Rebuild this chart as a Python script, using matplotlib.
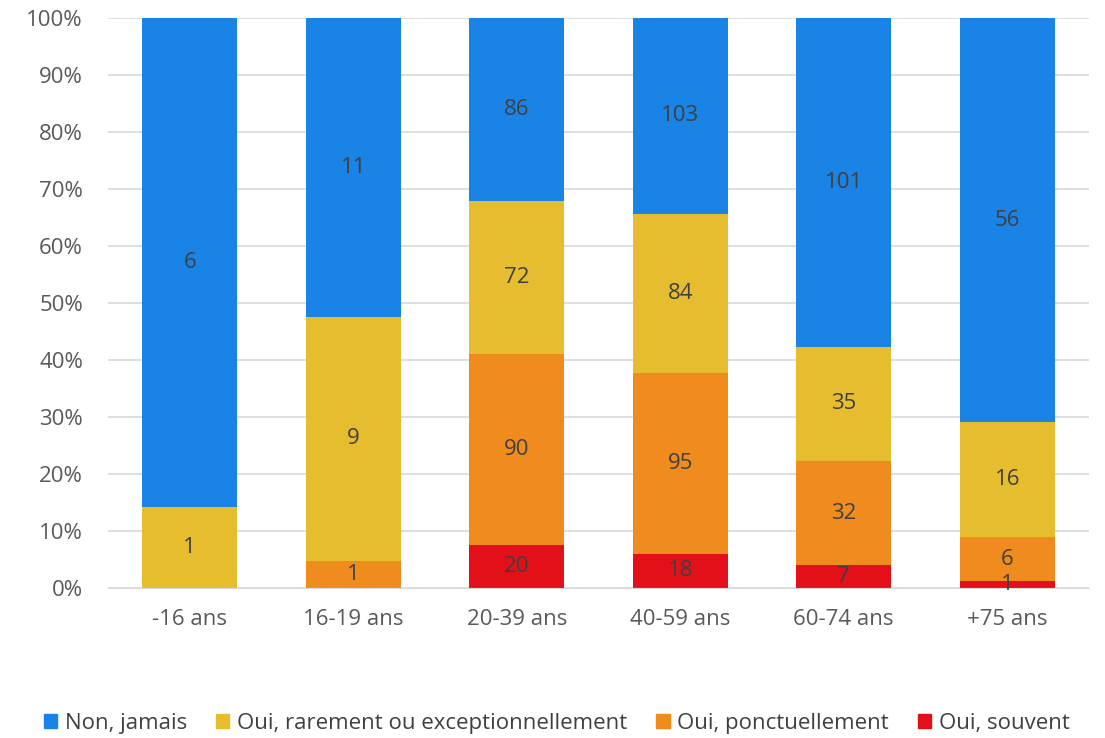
import numpy as np
import matplotlib.pyplot as plt
from matplotlib.patches import Patch

categories = ["-16 ans", "16-19 ans", "20-39 ans", "40-59 ans", "60-74 ans", "+75 ans"]
series_names = ["Oui, souvent", "Oui, ponctuellement",
                "Oui, rarement ou exceptionnellement", "Non, jamais"]
souvent = [0, 0, 20, 18, 7, 1]
ponctuel = [0, 1, 90, 95, 32, 6]
rarement = [1, 9, 72, 84, 35, 16]
jamais = [6, 11, 86, 103, 101, 56]
colors = ["#e3101a", "#ef8c1d", "#e6bd2e", "#1a83e6"]

plt.rcParams["font.family"] = ["Open Sans", "DejaVu Sans"]

counts = np.array([souvent, ponctuel, rarement, jamais], dtype=float)
totals = counts.sum(axis=0)
shares = counts / totals * 100

fig = plt.figure(figsize=(11.05, 7.38), dpi=100)
ax = fig.add_axes([0.0977, 0.2033, 0.8878, 0.7723])
x = np.arange(len(categories))
bottom = np.zeros(len(categories))
for i, (name, col) in enumerate(zip(series_names, colors)):
    ax.bar(x, shares[i], 0.58, bottom=bottom, color=col, zorder=2, label=name)
    for j in range(len(categories)):
        if counts[i, j] > 0:
            ax.text(x[j], bottom[j] + shares[i, j] / 2, f"{int(counts[i, j])}",
                    ha="center", va="center", fontsize=16, color="#404040", zorder=3)
    bottom += shares[i]

ax.set_xlim(-0.5, len(categories) - 0.5)
ax.set_ylim(0, 100)
ax.set_yticks(np.arange(0, 101, 10))
ax.set_yticklabels([f"{v}%" for v in range(0, 101, 10)])
ax.set_xticks(x)
ax.set_xticklabels(categories)
ax.tick_params(axis="both", length=0, labelsize=16, labelcolor="#595959")
ax.tick_params(axis="x", pad=15)
ax.tick_params(axis="y", pad=18)
ax.grid(axis="y", color="#d9d9d9", linewidth=1.2, zorder=0)
for s in ["top", "right", "left"]:
    ax.spines[s].set_visible(False)
ax.spines["bottom"].set_color("#d9d9d9")

handles = [Patch(color=colors[3]), Patch(color=colors[2]),
           Patch(color=colors[1]), Patch(color=colors[0])]
labels = [series_names[3], series_names[2], series_names[1], series_names[0]]
fig.legend(handles, labels, loc="center", bbox_to_anchor=(0.504, 0.02), ncol=4,
           frameon=False, fontsize=16, handlelength=0.6, handleheight=0.6,
           handletextpad=0.35, columnspacing=1.3, labelcolor="#404040")

fig.savefig("out.png", dpi=100)
